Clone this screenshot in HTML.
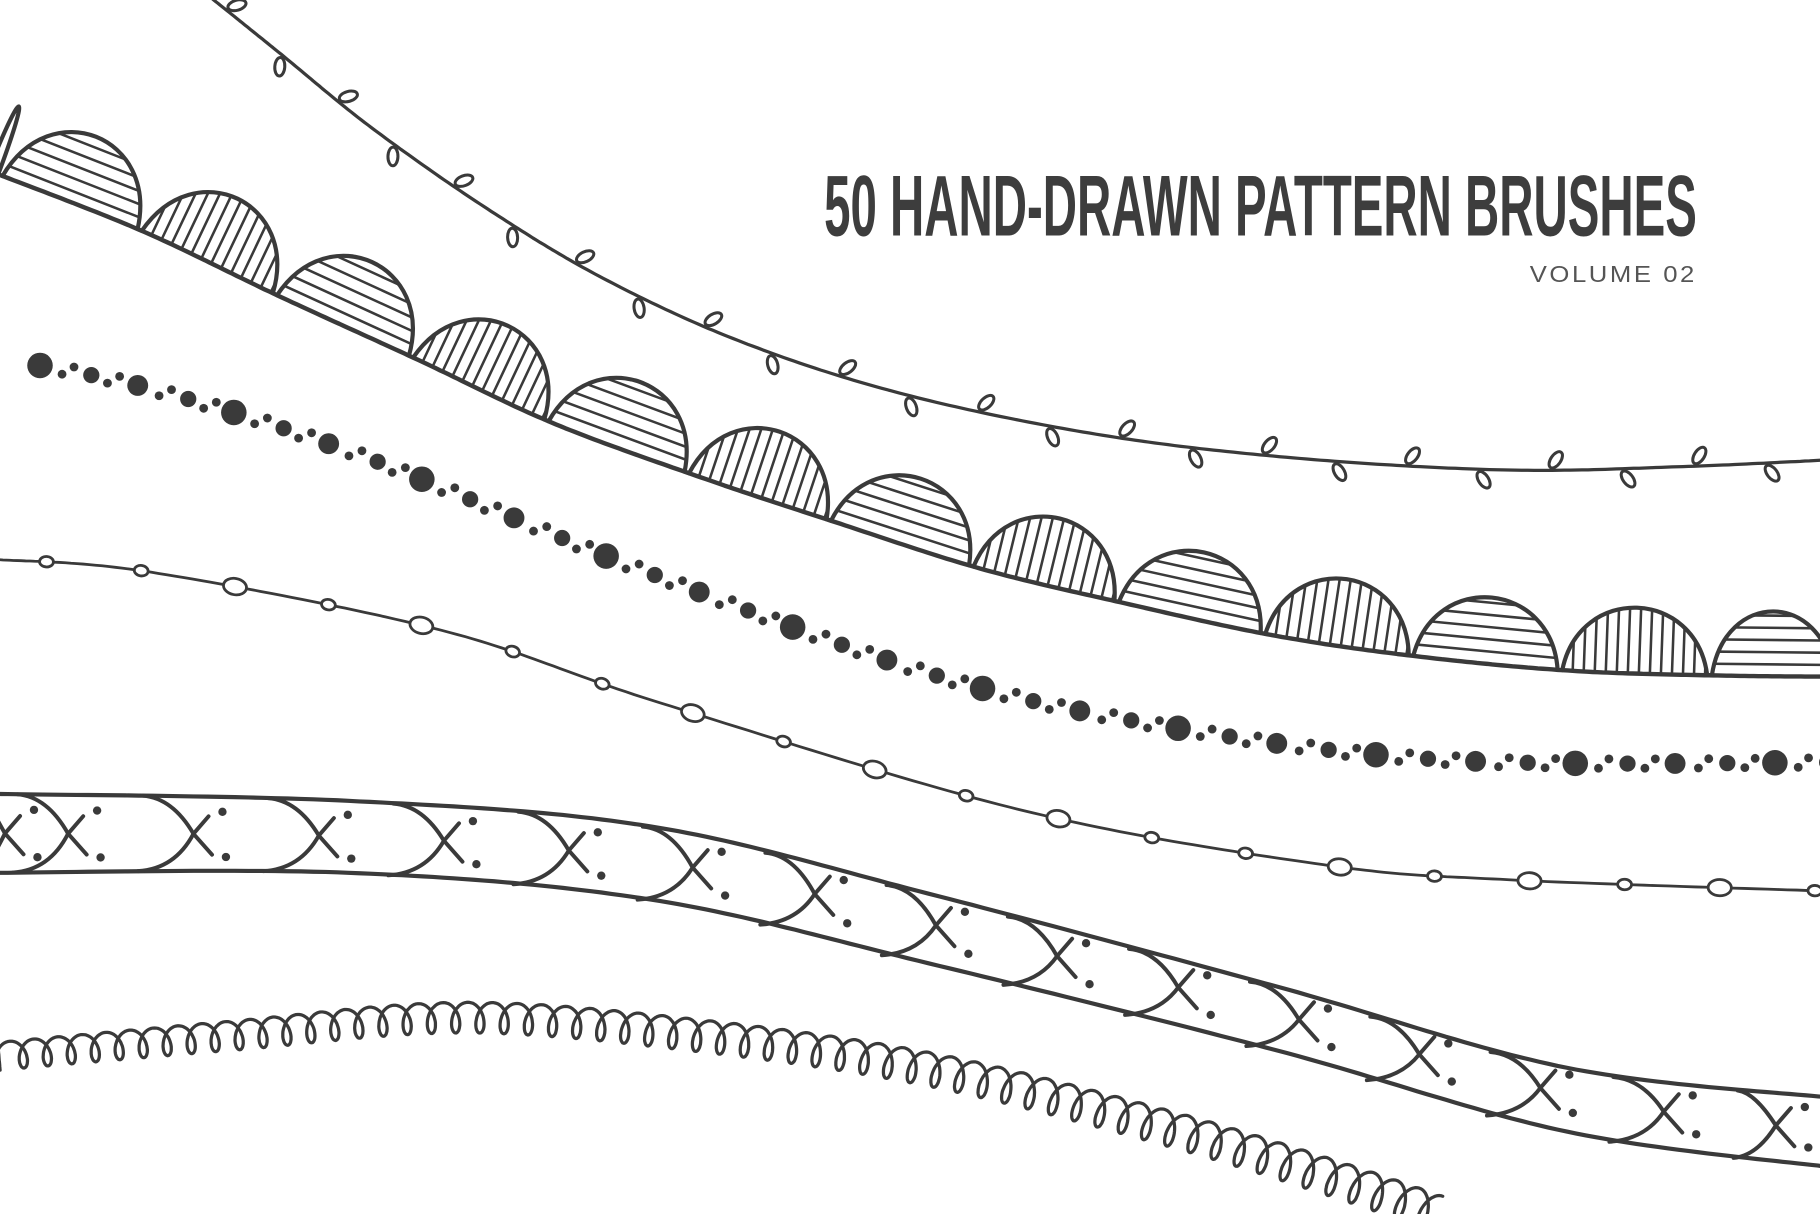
<!DOCTYPE html>
<html><head><meta charset="utf-8"><style>
html,body{margin:0;padding:0;background:#fff;}
svg{display:block;}
</style></head><body>
<svg id="s" width="1820" height="1214" viewBox="0 0 1568 1046" xmlns="http://www.w3.org/2000/svg">
<rect width="1568" height="1046" fill="#fff"/>
<g id="g" fill="none" stroke="#3a3a3a" stroke-linecap="round" stroke-linejoin="round"></g>
<text x="1462" y="203" text-anchor="end" font-family="'Liberation Sans Narrow','Liberation Sans',sans-serif" font-weight="bold" font-size="74" fill="#3d3d3d" textLength="752" lengthAdjust="spacingAndGlyphs">50 HAND-DRAWN PATTERN BRUSHES</text>
<text x="1462" y="243" text-anchor="end" font-family="'Liberation Sans',sans-serif" font-size="20" fill="#555" letter-spacing="2" textLength="144" lengthAdjust="spacingAndGlyphs">VOLUME 02</text>
</svg>
<script>
var NS="http://www.w3.org/2000/svg",G=document.getElementById('g'),defs=document.createElementNS(NS,'defs');document.getElementById('s').insertBefore(defs,document.getElementById('s').firstChild);
function el(t,a,p){var e=document.createElementNS(NS,t);for(var k in a)e.setAttribute(k,a[k]);(p||G).appendChild(e);return e;}
function curve(P){var d=[];for(var i=0;i<P.length-1;i++){var p0=P[Math.max(0,i-1)],p1=P[i],p2=P[i+1],p3=P[Math.min(P.length-1,i+2)];for(var j=0;j<30;j++){var t=j/30,t2=t*t,t3=t2*t;d.push([0.5*((2*p1[0])+(-p0[0]+p2[0])*t+(2*p0[0]-5*p1[0]+4*p2[0]-p3[0])*t2+(-p0[0]+3*p1[0]-3*p2[0]+p3[0])*t3),0.5*((2*p1[1])+(-p0[1]+p2[1])*t+(2*p0[1]-5*p1[1]+4*p2[1]-p3[1])*t2+(-p0[1]+3*p1[1]-3*p2[1]+p3[1])*t3)]);}}d.push(P[P.length-1]);var c=[0];for(var i=1;i<d.length;i++)c.push(c[i-1]+Math.hypot(d[i][0]-d[i-1][0],d[i][1]-d[i-1][1]));var L=c[c.length-1];
function at(s){if(s<0)s=0;if(s>L)s=L;var lo=0,hi=c.length-1;while(hi-lo>1){var m=(lo+hi)>>1;if(c[m]<=s)lo=m;else hi=m;}var f=(s-c[lo])/((c[hi]-c[lo])||1);var x=d[lo][0]+(d[hi][0]-d[lo][0])*f,y=d[lo][1]+(d[hi][1]-d[lo][1])*f;var tx=d[hi][0]-d[lo][0],ty=d[hi][1]-d[lo][1],l=Math.hypot(tx,ty)||1;tx/=l;ty/=l;return {x:x,y:y,tx:tx,ty:ty,nx:ty,ny:-tx};}
var s="M"+d.map(function(p){return p[0].toFixed(1)+" "+p[1].toFixed(1)}).join("L");return {L:L,at:at,d:s};}
function f(v){return v.toFixed(1);}
// vine
var V=curve([[178,-5],[240,45],[320,110],[420,180],[520,240],[640,295],[780,340],[950,375],[1120,395],[1300,405],[1450,402],[1580,396]]);
el('path',{d:V.d,'stroke-width':2.8});
var side=1;for(var s=20;s<V.L;s+=62){var p=V.at(s);var ang=Math.atan2(p.ty,p.tx)*180/Math.PI;var a=ang+(side>0?-55:55);var r=a*Math.PI/180;var cx=p.x+Math.cos(r)*11,cy=p.y+Math.sin(r)*11;el('ellipse',{cx:f(cx),cy:f(cy),rx:8,ry:4.3,transform:'rotate('+f(a)+' '+f(cx)+' '+f(cy)+')',fill:'#fff','stroke-width':2.6});side=-side;}
// scallops
var S=curve([[-10,147],[120,198],[240,255],[360,310],[475,364],[600,410],[720,450],[845,490],[970,520],[1100,548],[1225,566],[1355,578],[1480,582],[1580,583]]);
var Pw=129,idx=0;
for(var s0=-118;s0<S.L;s0+=Pw){var a0=S.at(s0+2),a1=S.at(s0+Pw-2);var tx=a1.x-a0.x,ty=a1.y-a0.y,l=Math.hypot(tx,ty);tx/=l;ty/=l;var nx=ty,ny=-tx;var h=64-6*(Math.max(0,s0)/S.L);var k=1.27*h,sh=0.1*l;
var dp="M"+f(a0.x)+" "+f(a0.y)+"C"+f(a0.x+nx*k+tx*sh)+" "+f(a0.y+ny*k+ty*sh)+" "+f(a1.x+nx*k-tx*sh)+" "+f(a1.y+ny*k-ty*sh)+" "+f(a1.x)+" "+f(a1.y);
var cp=el('clipPath',{id:'c'+idx},defs);el('path',{d:dp+'Z'},cp);var g=el('g',{'clip-path':'url(#c'+idx+')','stroke-width':2.2});
if(idx%2==1){for(var t=10;t<h;t+=10.5){el('path',{d:"M"+f(a0.x-tx*10+nx*t)+" "+f(a0.y-ty*10+ny*t)+"L"+f(a1.x+tx*10+nx*t)+" "+f(a1.y+ty*10+ny*t)},g);}}
else{for(var u=9;u<l;u+=9.5){var bx=a0.x+tx*u,by=a0.y+ty*u;el('path',{d:"M"+f(bx)+" "+f(by)+"L"+f(bx+nx*h*1.2)+" "+f(by+ny*h*1.2)},g);}}
el('path',{d:dp,'stroke-width':3.6});idx++;}
el('path',{d:S.d,'stroke-width':3.8});
// dots
var D=curve([[-5,308],[130,335],[310,392],[550,490],[800,580],[1000,625],[1250,655],[1580,657]]);
var pat=[[0,9,0],[20,3.8,-4],[29,3.8,4],[45,7,0],[60,3.8,-4],[69,3.8,4]];var n=0;
for(var s=40;s<D.L;s+=86){for(var i=0;i<pat.length;i++){var q=pat[i],p=D.at(s+q[0]);var r=q[1];if(i==0)r=(n%2?9:11);el('circle',{cx:f(p.x+p.nx*q[2]),cy:f(p.y+p.ny*q[2]),r:r,fill:'#3a3a3a',stroke:'none'});}n++;}
// beads
var B=curve([[-5,482],[130,493],[380,543],[570,606],[880,698],[1140,745],[1300,758],[1580,768]]);
el('path',{d:B.d,'stroke-width':2.4});var sz=[0,0,1,0,1,0,0,1,0,1,0,1,0,0,1,0,1,0,1,0,0,1];i=0;
for(var s=45;s<B.L;s+=82){var p=B.at(s);var L1=sz[i%sz.length];var ang=Math.atan2(p.ty,p.tx)*180/Math.PI;el('ellipse',{cx:f(p.x),cy:f(p.y),rx:L1?10:6,ry:L1?7:4.5,transform:'rotate('+f(ang)+' '+f(p.x)+' '+f(p.y)+')',fill:'#fff','stroke-width':2.4});i++;}
// cross band
var T=curve([[-5,684],[300,690],[560,712],[800,770],[1100,850],[1350,920],[1580,946]]),U=curve([[-5,752],[300,752],[560,775],[800,830],[1100,905],[1350,975],[1580,1006]]);
el('path',{d:T.d,'stroke-width':3.6});el('path',{d:U.d,'stroke-width':3.6});
var P=108;for(var s=-80;s<T.L;s+=P){var fr=s/T.L;var t0=T.at(s),b0=U.at(fr*U.L),t1=T.at(s+P);
var mx=t0.x+(t1.x-t0.x)*0.33,my=(t0.y+b0.y)/2+(t1.y-t0.y)*0.33*0.5;
el('path',{d:"M"+f(t0.x-8)+" "+f(t0.y)+"Q"+f(mx-18)+" "+f(t0.y+2)+" "+f(mx)+" "+f(my)+"L"+f(mx+16)+" "+f(my+18),'stroke-width':3.4});
el('path',{d:"M"+f(b0.x-12)+" "+f(b0.y)+"Q"+f(mx-16)+" "+f(b0.y-2)+" "+f(mx)+" "+f(my)+"L"+f(mx+13)+" "+f(my-15),'stroke-width':3.4});
var h=b0.y-t0.y;el('circle',{cx:f(mx+25),cy:f(t0.y+h*0.2+(t1.y-t0.y)*0.4),r:3.6,fill:'#3a3a3a',stroke:'none'});el('circle',{cx:f(mx+28),cy:f(t0.y+h*0.8+(t1.y-t0.y)*0.4),r:3.6,fill:'#3a3a3a',stroke:'none'});}
// loops
var Lp=curve([[0,922],[200,905],[400,890],[600,906],[800,936],[1000,986],[1150,1032],[1260,1070]]);
var pts=[],c=3.3,bx=8,by=12;for(var t=0;t<Lp.L/c;t+=0.12){var s=c*t-bx*Math.sin(t);var p=Lp.at(s);var g2=by*(1-Math.cos(t))*(1+0.3*(p.x/1200));pts.push(f(p.x+p.nx*g2)+" "+f(p.y+p.ny*g2));if(s>Lp.L-30)break;}
el('path',{d:"M"+pts.join("L"),'stroke-width':2.8});
</script>
</body></html>
